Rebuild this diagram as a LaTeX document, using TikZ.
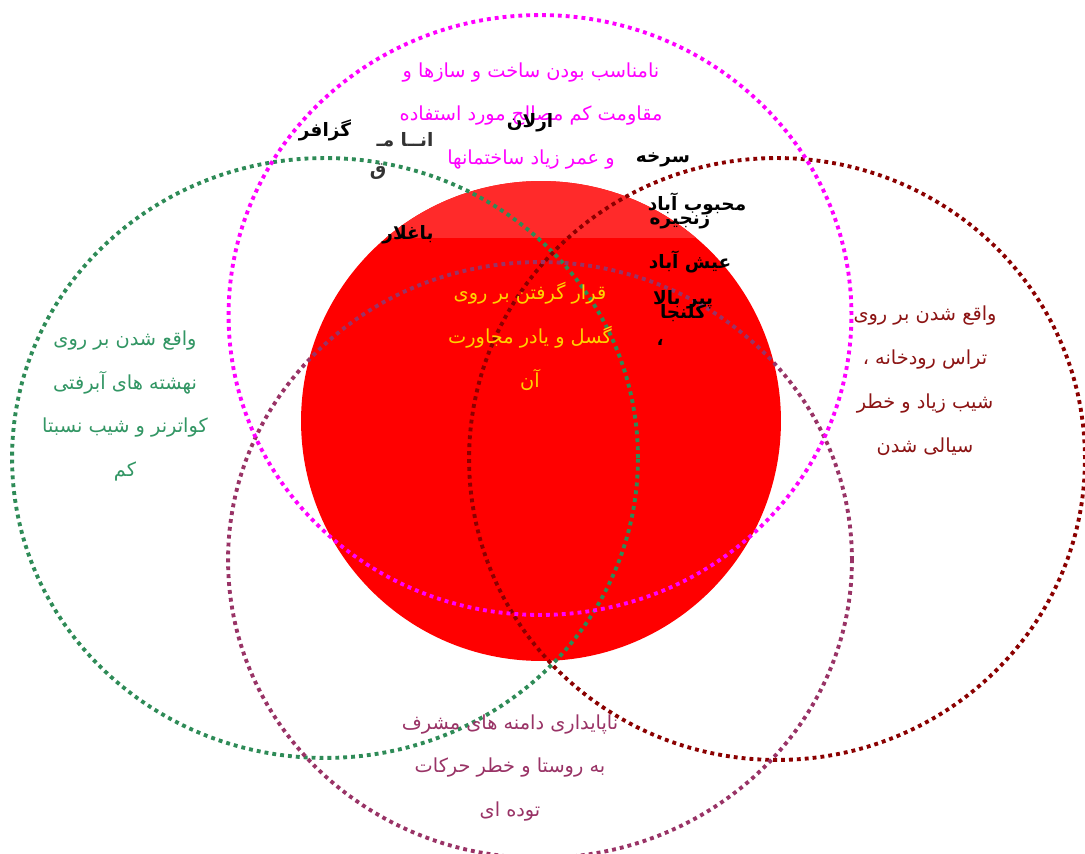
\documentclass[tikz,border=0pt]{standalone}
\usepackage{fontspec}
\newfontfamily\farsi[Script=Arabic]{DejaVu Sans}
\TeXXeTstate=1
\newcommand{\rtlline}[1]{\beginR #1\endR}

\definecolor{ringmagenta}{RGB}{255,0,255}
\definecolor{ringgreen}{RGB}{46,139,87}
\definecolor{ringmaroon}{RGB}{139,0,0}
\definecolor{ringpurple}{RGB}{153,51,102}
\definecolor{bandred}{RGB}{255,42,42}
\definecolor{txtgreen}{RGB}{50,150,100}
\definecolor{txtmaroon}{RGB}{140,20,20}
\definecolor{txtyellow}{RGB}{255,210,0}

\tikzset{
  ring/.style={dash pattern=on 2.2pt off 2.3pt, line width=2.2pt},
  note/.style={font=\farsi\fontsize{11}{25}\selectfont, align=center},
  village/.style={font=\farsi\bfseries\fontsize{10.5}{12}\selectfont, text=black}
}

\begin{document}
\begin{tikzpicture}[x=0.02cm, y=-0.02cm]
    \useasboundingbox[fill=white] (0,0) rectangle (1085,854);

    % red zone
    \fill[red] (541,421) circle[radius=4.8cm];
    \begin{scope}
        \clip (541,421) circle[radius=4.8cm];
        \fill[bandred] (290,170) rectangle (800,238);
    \end{scope}

    % dotted rings
    \draw[ring, ringgreen] (325,458) ellipse[x radius=6.26cm, y radius=6cm];
    \draw[ring, ringmaroon] (777,459) ellipse[x radius=6.16cm, y radius=6.02cm];
    \draw[ring, ringpurple] (540,560) ellipse[x radius=6.24cm, y radius=5.96cm];
    \draw[ring, ringmagenta] (540,315) ellipse[x radius=6.23cm, y radius=6cm];

    % notes
    \node[note, text=ringmagenta] (build) at (531,116)
        {\rtlline{نامناسب بودن ساخت و سازها و}\\\rtlline{مقاومت کم مصالح مورد استفاده}\\\rtlline{و عمر زیاد ساختمانها}};
    \node[note, text=txtyellow] (fault) at (530,336)
        {\rtlline{قرار گرفتن بر روی}\\\rtlline{گسل و یادر مجاورت}\\\rtlline{آن}};
    \node[note, text=txtgreen] (alluvium) at (125,406)
        {\rtlline{واقع شدن بر روی}\\\rtlline{نهشته های آبرفتی}\\\rtlline{کواترنر و شیب نسبتا}\\\rtlline{کم}};
    \node[note, text=txtmaroon] (terrace) at (925,381)
        {\rtlline{واقع شدن بر روی}\\\rtlline{تراس رودخانه ،}\\\rtlline{شیب زیاد و خطر}\\\rtlline{سیالی شدن}};
    \node[note, text=ringpurple] (slope) at (510,768)
        {\rtlline{ناپایداری دامنه های مشرف}\\\rtlline{به روستا و خطر حرکات}\\\rtlline{توده ای}};

    % villages
    \node[village] (arlan) at (530,123) {\rtlline{ارلان}};
    \node[village] (gozafar) at (325,130) {\rtlline{گزافر}};
    \node[village, text=black!80] (anam) at (405,140) {\rtlline{انــا مـ}};
    \node[village, text=black!80] (qaf) at (378,172) {\rtlline{ق}};
    \node[village] (sorkheh) at (663,160) {\rtlline{سرخه}};
    \node[village] (mahbub) at (697,204) {\rtlline{محبوب آباد}};
    \node[village] (zanjireh) at (680,222) {\rtlline{زنجیره}};
    \node[village] (baghlar) at (408,235) {\rtlline{باغلار}};
    \node[village] (eysh) at (690,262) {\rtlline{عیش آباد}};
    \node[village] (pirbala) at (683,300) {\rtlline{پیر بالا}};
    \node[village] (kalanja) at (683,313) {\rtlline{کلنجا}};
    \node[village] (mark) at (660,342) {\rtlline{،}};
\end{tikzpicture}
\end{document}
